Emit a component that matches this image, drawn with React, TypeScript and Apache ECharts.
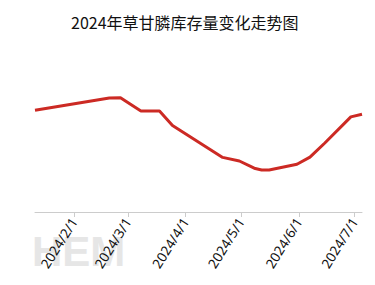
import React, { useEffect, useRef } from "react";
import * as echarts from "echarts";

const titleText = "2024年草甘膦库存量变化走势图";
const dates = [
  "2024-01-11", "2024-02-20", "2024-02-26", "2024-03-08", "2024-03-18", "2024-03-25",
  "2024-04-21", "2024-04-30", "2024-05-08", "2024-05-12", "2024-05-16", "2024-05-31",
  "2024-06-07", "2024-06-15", "2024-06-29", "2024-07-05",
];
const inventory = [
  5.79, 6.2, 6.21, 5.77, 5.77, 5.28,
  4.22, 4.1, 3.86, 3.8, 3.8, 3.99,
  4.23, 4.7, 5.57, 5.66,
];
const monthTicks = ["2024-02-01", "2024-03-01", "2024-04-01", "2024-05-01", "2024-06-01", "2024-07-01"];

const toTs = (s: string) => {
  const [y, m, d] = s.split("-").map(Number);
  return new Date(y, m - 1, d).getTime();
};

export default function App() {
  const ref = useRef<HTMLDivElement>(null);
  useEffect(() => {
    document.body.style.margin = "0";
    if (!ref.current) return;
    const chart = echarts.init(ref.current, null, { renderer: "svg" });
    const tickTs = monthTicks.map(toTs);
    chart.setOption({
      animation: false,
      title: {
        text: titleText,
        left: 66,
        top: 9,
        textStyle: { fontSize: 16, fontWeight: "normal", color: "#111", fontFamily: "Noto Sans CJK SC" },
      },
      graphic: [
        {
          type: "text",
          left: 32,
          top: 230,
          z: -1,
          style: { text: "HEM", fontSize: 42, fontWeight: "bold", fill: "#e6e6e6", fontFamily: "Arial, Liberation Sans" },
        },
      ],
      grid: { left: 35, right: 13, top: 62, bottom: 73 },
      xAxis: {
        type: "value",
        min: toTs(dates[0]),
        max: toTs(dates[dates.length - 1]),
        axisLine: { lineStyle: { color: "#ccc" } },
        axisTick: { show: true, customValues: tickTs, lineStyle: { color: "#ccc" }, length: 5 },
        axisLabel: {
          customValues: tickTs,
          rotate: 58,
          fontSize: 13.5,
          margin: 7,
          color: "#111",
          fontFamily: "Noto Sans",
          formatter: (v: number) => {
            const d = new Date(v);
            return `${d.getFullYear()}/${d.getMonth() + 1}/${d.getDate()}`;
          },
        },
        splitLine: { show: false },
      },
      yAxis: {
        type: "value",
        min: 2.4,
        max: 7.4,
        show: false,
        splitLine: { show: false },
      },
      series: [
        {
          type: "line",
          data: dates.map((d, i) => [toTs(d), inventory[i]]),
          showSymbol: false,
          symbol: "none",
          lineStyle: { color: "#cc2a24", width: 3 },
          itemStyle: { color: "#cc2a24" },
        },
      ],
    });
    return () => chart.dispose();
  }, []);
  return <div ref={ref} style={{ width: 375, height: 285 }} />;
}
